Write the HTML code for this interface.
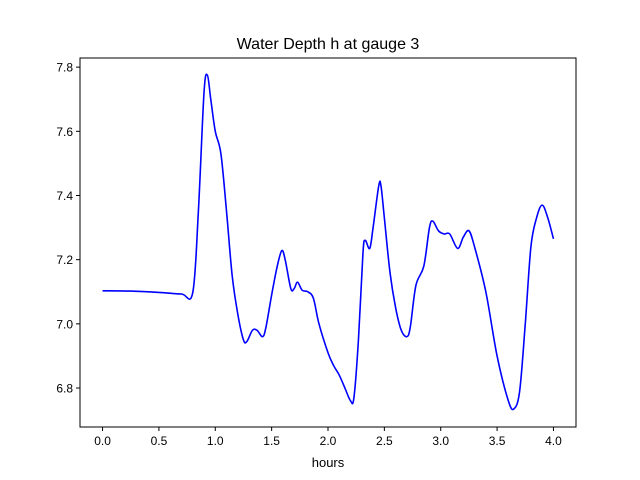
<!DOCTYPE html>
<html><head><meta charset="utf-8"><style>
body{margin:0;background:#fff;}
svg{display:block;font-family:"Liberation Sans","DejaVu Sans",sans-serif;}
</style></head><body>
<svg id="chart" width="640" height="480">
<rect x="0" y="0" width="640" height="480" fill="#fff"/>
<text x="328" y="49" font-size="16" text-anchor="middle">Water Depth h at gauge 3</text>
<g id="ticks"></g>
<path id="line" fill="none" stroke="#0000ff" stroke-width="1.6" stroke-linejoin="round"/>
<rect x="80" y="58" width="496" height="369" fill="none" stroke="#000" stroke-width="1"/>
<text x="328" y="467" font-size="13" text-anchor="middle">hours</text>
</svg>
<script>
const hours=[0,0.25,0.5,0.7,0.8,0.85,0.9,0.93,0.96,1.0,1.05,1.1,1.15,1.2,1.25,1.28,1.33,1.37,1.42,1.45,1.5,1.55,1.59,1.62,1.67,1.7,1.73,1.77,1.82,1.87,1.92,2.0,2.05,2.1,2.15,2.2,2.23,2.27,2.31,2.33,2.37,2.4,2.45,2.47,2.5,2.55,2.6,2.65,2.7,2.73,2.78,2.85,2.9,2.93,2.98,3.03,3.08,3.15,3.2,3.25,3.3,3.4,3.5,3.6,3.65,3.7,3.75,3.8,3.85,3.9,3.95,4.0];
const depth=[7.103,7.102,7.098,7.093,7.097,7.35,7.72,7.775,7.70,7.60,7.53,7.35,7.15,7.03,6.95,6.945,6.98,6.98,6.96,6.99,7.09,7.18,7.228,7.20,7.11,7.11,7.13,7.105,7.10,7.08,7.00,6.91,6.87,6.84,6.80,6.76,6.77,6.95,7.22,7.26,7.235,7.30,7.43,7.43,7.33,7.16,7.05,6.98,6.96,6.99,7.12,7.18,7.30,7.32,7.29,7.28,7.28,7.235,7.27,7.29,7.24,7.10,6.90,6.76,6.735,6.79,7.0,7.24,7.33,7.37,7.33,7.265];
const xTicks=[0,0.5,1,1.5,2,2.5,3,3.5,4];
const xTickLabels=["0.0","0.5","1.0","1.5","2.0","2.5","3.0","3.5","4.0"];
const yTicks=[6.8,7.0,7.2,7.4,7.6,7.8];
const yTickLabels=["6.8","7.0","7.2","7.4","7.6","7.8"];
const L=80,R=576,T=58,B=427;
const xMin=-0.2,xMax=4.2,yMin=6.6785,yMax=7.8285;
const sx=v=>L+(v-xMin)/(xMax-xMin)*(R-L);
const sy=v=>B-(v-yMin)/(yMax-yMin)*(B-T);
const NS="http://www.w3.org/2000/svg";
const g=document.getElementById('ticks');
function mk(tag,attrs){const e=document.createElementNS(NS,tag);for(const k in attrs)e.setAttribute(k,attrs[k]);return e;}
xTicks.forEach((v,i)=>{
  const t=mk('line',{x1:sx(v),x2:sx(v),y1:B,y2:B+4,stroke:'#000'});
  
  
  g.appendChild(t);
  const l=mk('text',{x:sx(v),y:B+18,'font-size':12,'text-anchor':'middle'});
  
  
  l.textContent=xTickLabels[i];g.appendChild(l);
});
yTicks.forEach((v,i)=>{
  const t=mk('line',{x1:L-4,x2:L,y1:sy(v),y2:sy(v),stroke:'#000'});
  
  
  g.appendChild(t);
  const l=mk('text',{x:L-7,y:sy(v)+4.5,'font-size':12,'text-anchor':'end'});
  
  
  l.textContent=yTickLabels[i];g.appendChild(l);
});
// smooth path via Catmull-Rom
const pts=hours.map((h,i)=>[sx(h),sy(depth[i])]);
let d='M'+pts[0][0]+','+pts[0][1];
for(let i=0;i<pts.length-1;i++){
  const p0=pts[Math.max(i-1,0)],p1=pts[i],p2=pts[i+1],p3=pts[Math.min(i+2,pts.length-1)];
  const c1=[p1[0]+(p2[0]-p0[0])/6,p1[1]+(p2[1]-p0[1])/6];
  const c2=[p2[0]-(p3[0]-p1[0])/6,p2[1]-(p3[1]-p1[1])/6];
  d+=' C'+c1[0]+','+c1[1]+' '+c2[0]+','+c2[1]+' '+p2[0]+','+p2[1];
}
document.getElementById('line').setAttribute('d',d);
</script>
</body></html>
